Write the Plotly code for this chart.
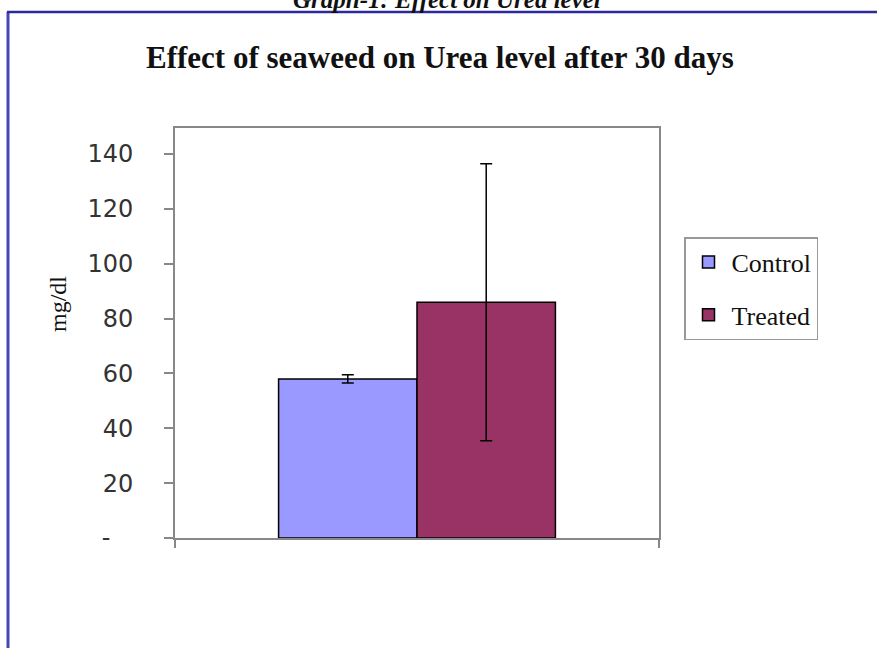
import plotly.graph_objects as go

# Data
categories = [""]
series_names = ["Control", "Treated"]
control_values = [58]
control_err = [1.5]
treated_values = [86]
treated_err = [50.5]
y_tick_vals = [0, 20, 40, 60, 80, 100, 120, 140]
y_tick_text = ["-\u00a0\u00a0\u00a0", "20", "40", "60", "80", "100", "120", "140"]

colors = {"Control": "#9999ff", "Treated": "#993366"}

fig = go.Figure()
fig.add_trace(go.Bar(
    x=categories, y=control_values, name=series_names[0], legendgroup="c",
    marker=dict(color=colors["Control"], line=dict(color="#000000", width=1.5)),
    error_y=dict(type="data", array=control_err, visible=True, color="#000000", thickness=1.5, width=6),
))
fig.add_trace(go.Bar(
    x=categories, y=treated_values, name=series_names[1], legendgroup="t",
    marker=dict(color=colors["Treated"], line=dict(color="#000000", width=1.5)),
    error_y=dict(type="data", array=treated_err, visible=True, color="#000000", thickness=1.5, width=6),
))

L, R, T, B = 175, 659, 128, 538
W, H = 877, 648
pw, ph = R - L, B - T

def px(x):
    return (x - L) / pw

def py(y):
    return (B - y) / ph

fig.update_layout(
    width=W, height=H, autosize=False,
    margin=dict(l=L, r=W - R, t=T, b=H - B, pad=0),
    paper_bgcolor="white", plot_bgcolor="white",
    barmode="group", bargap=0.428, bargroupgap=0,
    showlegend=True,
    legend=dict(
        x=px(684), y=py(237), xanchor="left", yanchor="top",
        bordercolor="#999999", borderwidth=1.5, bgcolor="white",
        font=dict(family="Liberation Serif", size=26, color="#111111"),
        tracegroupgap=16, itemwidth=36,
    ),
    xaxis=dict(
        type="category", range=[-0.5, 0.5], tickson="boundaries",
        ticks="outside", ticklen=8, tickcolor="#888888", tickwidth=2,
        showline=True, linecolor="#888888", linewidth=2, mirror=True,
        showgrid=False, showticklabels=False, zeroline=False,
    ),
    yaxis=dict(
        range=[0, 149.5], tickmode="array", tickvals=y_tick_vals, ticktext=y_tick_text,
        ticks="outside", ticklen=9, tickcolor="#888888", tickwidth=2,
        showline=True, linecolor="#888888", linewidth=2, mirror=True,
        showgrid=False, zeroline=False, ticklabelstandoff=26,
        tickfont=dict(family="DejaVu Sans", size=24, color="#333333"),
    ),
    font=dict(family="Liberation Serif"),
)

fig.add_annotation(
    text="<b>Effect of seaweed on Urea level after 30 days</b>",
    xref="paper", yref="paper", x=px(440), y=py(57), xanchor="center", yanchor="middle",
    showarrow=False, font=dict(family="Liberation Serif", size=31, color="#111111"),
)
fig.add_annotation(
    text="<b><i>Graph-1: Effect on Urea level</i></b>",
    xref="paper", yref="paper", x=px(447), y=py(15), xanchor="center", yanchor="bottom",
    showarrow=False, font=dict(family="Liberation Serif", size=25, color="#111111"),
)
fig.add_annotation(
    text="mg/dl", textangle=-90,
    xref="paper", yref="paper", x=px(58), y=py(304), xanchor="center", yanchor="middle",
    showarrow=False, font=dict(family="Liberation Serif", size=24, color="#111111"),
)

# outer frame (blue border on left and top)
fig.add_shape(type="line", xref="paper", yref="paper",
              x0=px(8), x1=px(8), y0=py(12), y1=py(660),
              line=dict(color="#4646b4", width=3))
fig.add_shape(type="line", xref="paper", yref="paper",
              x0=px(7), x1=px(890), y0=py(12), y1=py(12),
              line=dict(color="#2a2a9c", width=2.5))

fig.write_html("out.html", config={"displayModeBar": False},
               post_script="document.body.style.margin='0';")
